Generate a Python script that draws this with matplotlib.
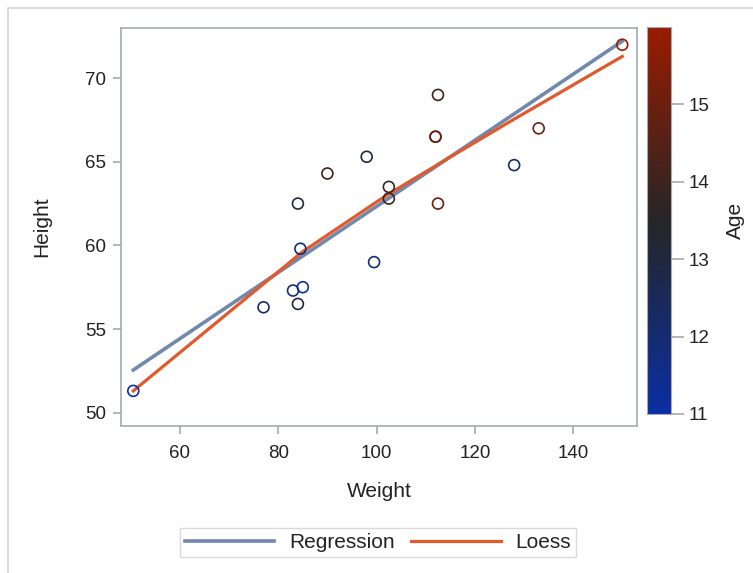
import numpy as np
import matplotlib
matplotlib.use("Agg")
import matplotlib.pyplot as plt
from matplotlib.colors import LinearSegmentedColormap
from matplotlib.patches import Rectangle

plt.rcParams['font.family'] = ['Liberation Sans', 'DejaVu Sans']

# sashelp.class
weight = [112.5, 84.0, 98.0, 102.5, 102.5, 83.0, 84.5, 112.5, 84.0, 99.5,
          50.5, 90.0, 77.0, 112.0, 150.0, 128.0, 133.0, 85.0, 112.0]
height = [69.0, 56.5, 65.3, 62.8, 63.5, 57.3, 59.8, 62.5, 62.5, 59.0,
          51.3, 64.3, 56.3, 66.5, 72.0, 64.8, 67.0, 57.5, 66.5]
age = [14, 13, 13, 14, 14, 12, 12, 15, 13, 12,
       11, 14, 12, 15, 16, 12, 15, 11, 15]

# loess fit
loess_x = [50.5, 77, 83, 84, 84.5, 85, 90, 98, 99.5, 102.5, 112, 112.5, 128, 133, 150]
loess_y = [51.3, 57.7, 59.15, 59.4, 59.52, 59.63, 60.62, 62.2, 62.5, 63.08,
           64.75, 64.85, 67.55, 68.4, 71.3]

cmap = LinearSegmentedColormap.from_list("age", ["#0B2FA3", "#262626", "#9A1C00"])
grey = "#A4AAB0"
txt = "#222222"

fig = plt.figure(figsize=(7.53, 5.73), dpi=100)
ax = fig.add_axes([121/753, 147/573, 516/753, 398/573])

# regression line
slope, icpt = np.polyfit(weight, height, 1)
xs = np.array([min(weight), max(weight)])
ax.plot(xs, icpt + slope * xs, color="#7189AD", lw=2.6, label="Regression", zorder=2)
ax.plot(loess_x, loess_y, color="#E2592B", lw=2.3, label="Loess", zorder=3)

ax.scatter(weight, height, c="none", edgecolors=cmap((np.array(age) - 11) / 5),
           s=62, linewidths=1.2, zorder=4)

ax.set_xlim(48, 153)
ax.set_ylim(49.2, 73)
ax.set_xticks([60, 80, 100, 120, 140])
ax.set_yticks([50, 55, 60, 65, 70])
ax.set_xlabel("Weight", fontsize=15, color=txt, labelpad=14)
ax.set_ylabel("Height", fontsize=15, color=txt, labelpad=24)
ax.tick_params(colors=grey, labelcolor=txt, labelsize=13.5, length=6, width=1.2, pad=5)
ax.tick_params(axis="x", pad=8)
for s in ax.spines.values():
    s.set_color(grey)
    s.set_linewidth(1.2)

leg = ax.legend(loc="upper center", bbox_to_anchor=(378/753, 45/573),
                bbox_transform=fig.transFigure, ncol=2, fontsize=15,
                frameon=True, fancybox=False, handlelength=4.3, borderaxespad=0,
                columnspacing=0.8, borderpad=0.25, handletextpad=0.7)
leg.get_frame().set_edgecolor("#D0D0D0")
for t in leg.get_texts():
    t.set_color(txt)

# colour bar
cax = fig.add_axes([647/753, 159/573, 24/753, 387/573])
grad = np.linspace(11, 16, 256).reshape(-1, 1)
cax.imshow(grad, aspect="auto", cmap=cmap, origin="lower", extent=[0, 1, 11, 16])
cax.set_xticks([])
cax.yaxis.tick_right()
cax.yaxis.set_label_position("right")
cax.set_yticks([11, 12, 13, 14, 15])
cax.set_ylabel("Age", fontsize=15, color=txt, labelpad=12)
cax.tick_params(colors=grey, labelcolor=txt, labelsize=13.5, length=9.5, width=1.2, pad=3)
for s in cax.spines.values():
    s.set_color(grey)

# outer frame
fig.patches.append(Rectangle((8/753, -0.1), 1.2, 1 - 8/573 + 0.1, transform=fig.transFigure,
                             fill=False, edgecolor="#D4D4D4", lw=1.2))

fig.savefig("out.png", dpi=100)
